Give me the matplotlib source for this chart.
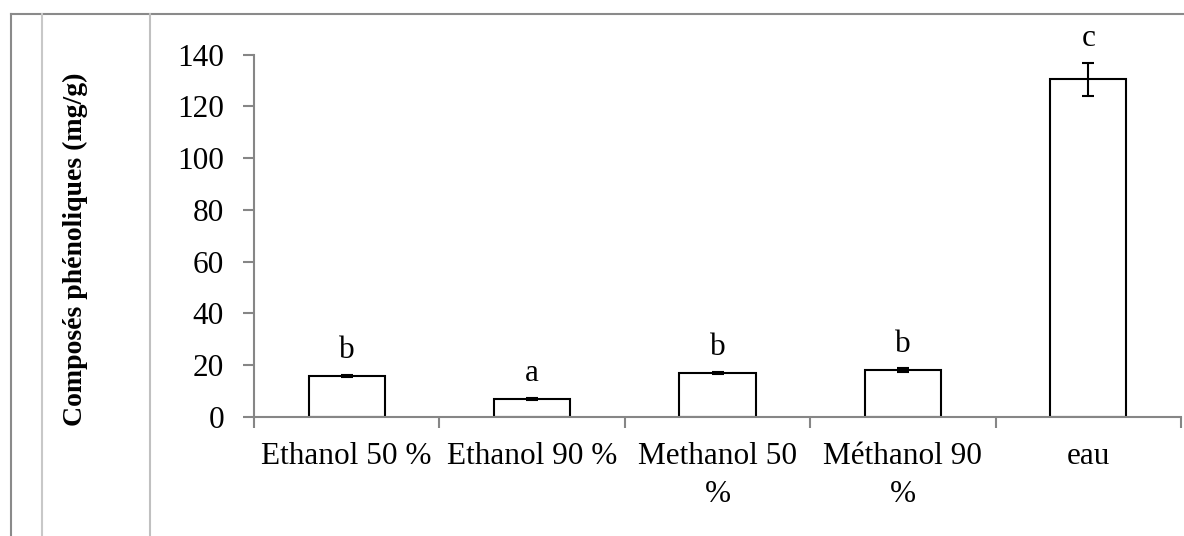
"""
Phenolic compounds by extraction solvent, bar chart with error bars
and significance letters.
"""

import matplotlib.pyplot as plt
import numpy as np
from matplotlib.lines import Line2D

plt.rcParams.update({"font.family": ["Liberation Serif", "DejaVu Serif"]})

# data
solvents = ["Ethanol 50 %", "Ethanol 90 %", "Methanol 50\n%", "Méthanol 90\n%", "eau"]
phenols = [15.8, 6.9, 17.0, 17.9, 130.6]
errors = [0.3, 0.4, 0.3, 0.8, 6.4]
letters = ["b", "a", "b", "b", "c"]
y_ticks = [0, 20, 40, 60, 80, 100, 120, 140]

AXIS_GREY = "#868686"

fig = plt.figure(figsize=(11.84, 5.36), dpi=100)
fig.patch.set_facecolor("white")
ax = fig.add_axes([0.2145, 0.2226, 0.7830, 0.6752])

x = np.arange(len(solvents))
ax.bar(x, phenols, width=0.41, color="white", edgecolor="black", linewidth=1.5, zorder=2)
ax.errorbar(x, phenols, yerr=errors, fmt="none", ecolor="black",
            elinewidth=1.5, capsize=4.5, capthick=1.5, zorder=3)

# significance letters above each bar
for xi, val, err, lab in zip(x, phenols, errors, letters):
    ax.text(xi, val + err + 6.5, lab, ha="center", va="baseline",
            fontsize=22.5, clip_on=False)

ax.set_xlim(-0.5, len(solvents) - 0.5)
ax.set_ylim(0, 140)
ax.set_yticks(y_ticks)
ax.set_yticklabels([str(t) for t in y_ticks], fontsize=22.5)

# category labels centred on bars, tick marks between categories
ax.set_xticks(x)
ax.set_xticklabels(solvents, fontsize=22.5, linespacing=1.4)
ax.tick_params(axis="x", which="major", length=0, pad=18.5)
ax.set_xticks(np.arange(len(solvents) + 1) - 0.5, minor=True)
ax.tick_params(axis="x", which="minor", length=8, width=1.5, color=AXIS_GREY, direction="out")
ax.tick_params(axis="y", length=8, width=1.5, color=AXIS_GREY, pad=13.5)

for side in ["top", "right"]:
    ax.spines[side].set_visible(False)
for side in ["left", "bottom"]:
    ax.spines[side].set_color(AXIS_GREY)
    ax.spines[side].set_linewidth(1.5)

fig.text(0.0635, 0.535, "Composés phénoliques (mg/g)", rotation=90,
         ha="center", va="center", fontsize=20, fontweight="bold")

# table cell borders around the chart
top = 1 - 13.5 / 536
fig.add_artist(Line2D([11 / 1184, 1.0], [top, top], color="#8a8a8a", lw=1.5))
fig.add_artist(Line2D([11 / 1184, 11 / 1184], [0, top], color="#8a8a8a", lw=1.5))
fig.add_artist(Line2D([42 / 1184, 42 / 1184], [0, top], color="#c8c8c8", lw=1.5))
fig.add_artist(Line2D([150 / 1184, 150 / 1184], [0, top], color="#c0c0c0", lw=1.5))

plt.savefig("out.png", dpi=100, facecolor="white")
